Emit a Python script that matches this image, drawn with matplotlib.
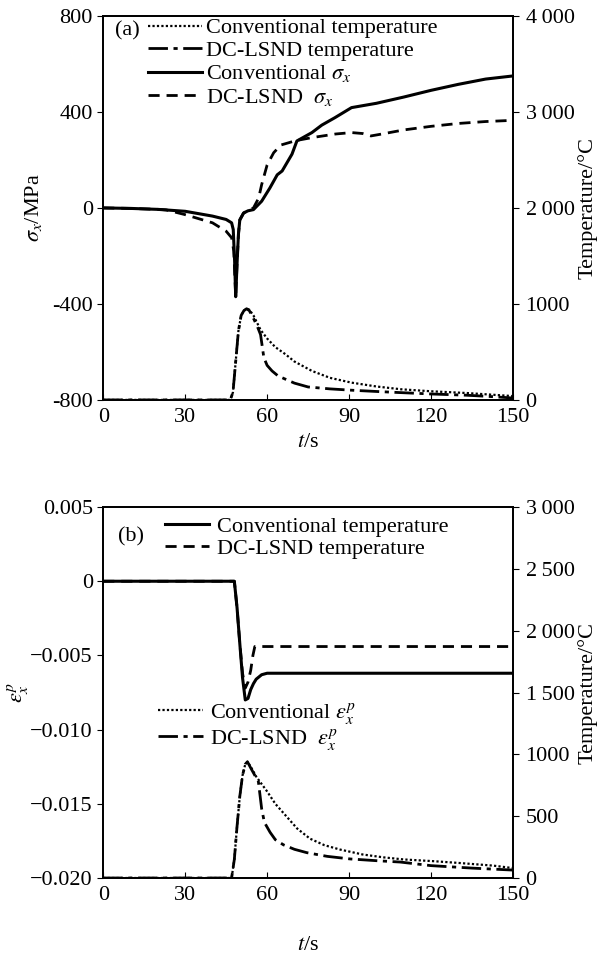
import matplotlib
matplotlib.use("Agg")
import matplotlib.pyplot as plt

plt.rcParams["font.family"] = ["Liberation Serif", "DejaVu Serif"]
plt.rcParams["mathtext.fontset"] = "stix"

# ---- panel (a) data ----
t_sig_conv = [0, 10, 20, 30, 40, 45, 47, 47.6, 48.1, 48.5, 49.0, 49.5, 50.0, 51.4, 53, 55, 58, 61,
              63.7, 65.5, 69.1, 70.9, 76.4, 80, 84.8, 90.9, 100, 110, 120, 130, 140, 150]
sig_conv = [0, -2, -6, -14, -34, -48, -62, -90, -220, -370, -230, -110, -50, -21, -12, -7, 28, 83,
            138, 154, 224, 279, 314, 345, 376, 418, 436, 462, 490, 515, 537, 550]

t_sig_dc = [0, 10, 20, 23, 30, 40, 45, 47, 47.8, 48.5, 49.0, 49.5, 50.0, 51.4, 53, 55, 56.9, 58,
            60, 62.4, 65, 68, 70.3, 76.4, 85, 90.9, 95, 98, 102, 110, 120, 130, 140, 150]
sig_dc = [0, -2, -6, -8, -28, -62, -97, -124, -180, -370, -230, -110, -50, -21, -12, 0, 41, 97,
          179, 230, 262, 272, 280, 293, 308, 314, 310, 300, 308, 325, 340, 352, 360, 365]

t_temp_a_conv = [0, 46.5, 47.5, 48.5, 49.5, 50.5, 51.5, 52.5, 53.5, 55, 57.6, 60, 63, 66.7, 70,
                 76.4, 83, 90.9, 100, 109, 120, 133, 142, 150]
temp_a_conv = [0, 0, 80, 400, 720, 880, 930, 950, 940, 880, 730, 640, 550, 476, 400,
               302, 230, 180, 140, 111, 90, 72, 55, 40]

t_temp_a_dc = [0, 46.5, 47.5, 48.5, 49.5, 50.5, 51.5, 52.5, 53.5, 55, 56.5, 57.6, 58.8, 60, 61.8,
               64, 66.7, 70, 75, 83, 91, 100, 109, 120, 133, 142, 150]
temp_a_dc = [0, 0, 80, 400, 720, 880, 930, 950, 930, 850, 760, 680, 441, 360, 302,
             250, 216, 175, 135, 115, 101, 88, 76, 62, 49, 35, 20]

# ---- panel (b) data ----
t_eps_conv = [0, 48, 49, 50, 51, 52, 53, 54, 55, 56, 58, 60, 150]
eps_conv = [0, 0, -0.0018, -0.0042, -0.0065, -0.0080, -0.0079, -0.0073, -0.0069, -0.0066,
            -0.0063, -0.0062, -0.0062]

t_eps_dc = [0, 48, 49, 50, 51, 52, 53, 54, 54.8, 55.5, 150]
eps_dc = [0, 0, -0.0018, -0.0042, -0.0062, -0.0072, -0.0068, -0.0060, -0.0050, -0.0044, -0.0044]

t_temp_b_conv = [0, 47, 48, 49, 50, 51, 52, 52.8, 54, 56, 58, 60, 63, 67.2, 71, 75.7, 81, 86.7,
                 95, 102.6, 110, 120.9, 130, 142.8, 150]
temp_b_conv = [0, 0, 150, 420, 660, 830, 920, 940, 900, 820, 760, 700, 600, 495, 400, 318, 265, 230,
               190, 167, 150, 136, 122, 100, 80]

t_temp_b_dc = [0, 47, 48, 49, 50, 51, 52, 52.8, 54, 55.5, 56.8, 58, 59, 61.1, 63, 66, 70, 74.5,
               82, 90.4, 100, 108.7, 120, 135, 150]
temp_b_dc = [0, 0, 150, 420, 660, 830, 920, 940, 890, 830, 780, 560, 450, 369, 310, 268, 232, 205,
             175, 154, 140, 129, 100, 80, 64]

x_ticks = [0, 30, 60, 90, 120, 150]
sig_ticks = [-800, -400, 0, 400, 800]
sig_labels = ["-800", "-400", "0", "400", "800"]
temp_a_ticks = [0, 1000, 2000, 3000, 4000]
temp_a_labels = ["0", "1000", "2\u2009000", "3\u2009000", "4\u2009000"]
eps_ticks = [-0.020, -0.015, -0.010, -0.005, 0, 0.005]
eps_labels = ["\u22120.020", "\u22120.015", "\u22120.010", "\u22120.005", "0", "0.005"]
temp_b_ticks = [0, 500, 1000, 1500, 2000, 2500, 3000]
temp_b_labels = ["0", "500", "1000", "1\u2009500", "2\u2009000", "2\u2009500", "3\u2009000"]

FS = 16
dotted = (0, (1, 1))
dashdot = (0, (7, 2, 1.5, 2))
dashed = (0, (4, 2.5))
leg_kw = dict(loc="upper left", frameon=False, fontsize=FS, borderpad=0, borderaxespad=0)

fig = plt.figure(figsize=(6, 9.66), dpi=100)


def style_axes(ax, axr, xpad):
    ax.set_xlim(0, 150)
    ax.set_xticks(x_ticks)
    ax.tick_params(axis="x", direction="in", length=4, labelsize=FS, pad=6)
    ax.tick_params(axis="y", direction="out", length=4, labelsize=FS)
    axr.tick_params(axis="y", direction="out", length=4, labelsize=FS, pad=5)
    for a in (ax, axr):
        for s in a.spines.values():
            s.set_linewidth(1.3)
    ax.set_xlabel(r"$t$/s", fontsize=FS, labelpad=xpad)


# ---------------- panel (a) ----------------
ax1 = fig.add_axes([0.172, 0.586, 0.683, 0.3975])
ax1r = ax1.twinx()
h1, = ax1r.plot(t_temp_a_conv, temp_a_conv, color="k", lw=1.6, ls=dotted)
h2, = ax1r.plot(t_temp_a_dc, temp_a_dc, color="k", lw=2.0, ls=dashdot)
h3, = ax1.plot(t_sig_conv, sig_conv, color="k", lw=2.2)
h4, = ax1.plot(t_sig_dc, sig_dc, color="k", lw=2.0, ls=dashed)
ax1.set_ylim(-800, 800)
ax1.set_yticks(sig_ticks)
ax1.set_yticklabels(sig_labels)
ax1r.set_ylim(0, 4000)
ax1r.set_yticks(temp_a_ticks)
ax1r.set_yticklabels(temp_a_labels)
style_axes(ax1, ax1r, 4)
ax1.set_ylabel(r"$\sigma_x$/MPa", fontsize=FS, labelpad=6)
ax1r.set_ylabel("Temperature/°C", fontsize=FS, labelpad=2)
ax1.text(0.03, 0.962, "(a)", transform=ax1.transAxes, fontsize=FS, va="center", ha="left")
ax1r.legend([h1, h2, h3, h4],
            ["Conventional temperature", "DC-LSND temperature",
             r"Conventional $\sigma_x$", r"DC-LSND  $\sigma_x$"],
            bbox_to_anchor=(0.11, 0.995), handlelength=2.4, handletextpad=0.2,
            labelspacing=0.1, **leg_kw)

# ---------------- panel (b) ----------------
ax2 = fig.add_axes([0.172, 0.0911, 0.683, 0.384])
ax2r = ax2.twinx()
g3, = ax2r.plot(t_temp_b_conv, temp_b_conv, color="k", lw=1.6, ls=dotted)
g4, = ax2r.plot(t_temp_b_dc, temp_b_dc, color="k", lw=2.0, ls=dashdot)
g1, = ax2.plot(t_eps_conv, eps_conv, color="k", lw=2.2)
g2, = ax2.plot(t_eps_dc, eps_dc, color="k", lw=2.0, ls=dashed)
ax2.set_ylim(-0.020, 0.005)
ax2.set_yticks(eps_ticks)
ax2.set_yticklabels(eps_labels)
ax2r.set_ylim(0, 3000)
ax2r.set_yticks(temp_b_ticks)
ax2r.set_yticklabels(temp_b_labels)
style_axes(ax2, ax2r, 22)
ax2.set_ylabel(r"$\varepsilon_x^p$", fontsize=FS, labelpad=0)
ax2r.set_ylabel("Temperature/°C", fontsize=FS, labelpad=2)
ax2.text(0.035, 0.92, "(b)", transform=ax2.transAxes, fontsize=FS, va="center", ha="left")
leg1 = ax2r.legend([g1, g2], ["Conventional temperature", "DC-LSND temperature"],
                   bbox_to_anchor=(0.15, 0.974), handlelength=2.0, handletextpad=0.35,
                   labelspacing=0.05, **leg_kw)
ax2r.add_artist(leg1)
ax2r.legend([g3, g4], [r"Conventional $\varepsilon_x^p$", r"DC-LSND  $\varepsilon_x^p$"],
            bbox_to_anchor=(0.134, 0.478), handlelength=2.0, handletextpad=0.35,
            labelspacing=0.05, **leg_kw)

fig.savefig("out.png", dpi=100)
